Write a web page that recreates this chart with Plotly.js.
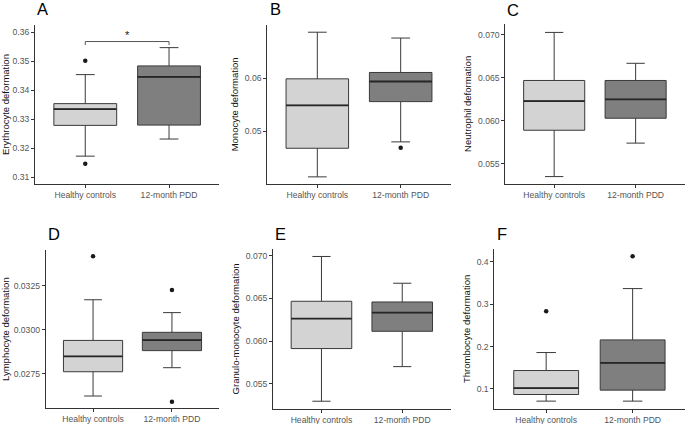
<!DOCTYPE html>
<html>
<head>
<meta charset="utf-8">
<script src="https://cdn.plot.ly/plotly-3.0.1.min.js"></script>
<style>
  html, body { margin: 0; padding: 0; background: #fff; }
  #chart { width: 685px; height: 424px; }
</style>
</head>
<body>
<div id="chart"></div>
<script>
// ---------------- data ----------------
const groups = ['Healthy controls', '12-month PDD'];
const panelLetters = ['A', 'B', 'C', 'D', 'E', 'F'];
const yTitles = ['Erythrocyte deformation', 'Monocyte deformation', 'Neutrophil deformation',
                 'Lymphocyte deformation', 'Granulo-monocyte deformation', 'Thrombocyte deformation'];

// Healthy controls box statistics, one value per panel (A..F)
const hcLower  = [0.3173, 0.0414, 0.0535, 0.02623, 0.05297, 0.0709];
const hcQ1     = [0.3279, 0.0468, 0.0589, 0.02761, 0.05913, 0.0866];
const hcMedian = [0.3335, 0.0549, 0.0623, 0.02848, 0.06264, 0.1016];
const hcQ3     = [0.3354, 0.0599, 0.0647, 0.02939, 0.06466, 0.1433];
const hcUpper  = [0.3454, 0.0687, 0.0703, 0.03170, 0.06990, 0.1858];
const hcOutliers = [[0.3502, 0.3147], [], [], [0.03417], [], [0.2835]];

// 12-month PDD box statistics
const pddLower  = [0.3232, 0.0480, 0.0574, 0.02784, 0.05702, 0.0709];
const pddQ1     = [0.3280, 0.0556, 0.0603, 0.02881, 0.06115, 0.0969];
const pddMedian = [0.3446, 0.0594, 0.0625, 0.02941, 0.06334, 0.1614];
const pddQ3     = [0.3484, 0.0611, 0.0647, 0.02985, 0.06458, 0.2157];
const pddUpper  = [0.3547, 0.0676, 0.0667, 0.03097, 0.06677, 0.3370];
const pddOutliers = [[], [0.0469], [], [0.03225, 0.02591], [], [0.4134]];

// significance bracket (panel A)
const sigPanel = 0;
const sigTop = 0.3568;
const sigDrop = 0.3556;
const sigLabel = '*';
const sigLabelY = 0.3592;

// y tick values per panel
const yTicks = [
  [0.31, 0.32, 0.33, 0.34, 0.35, 0.36],
  [0.05, 0.06],
  [0.055, 0.060, 0.065, 0.070],
  [0.0275, 0.0300, 0.0325],
  [0.055, 0.060, 0.065, 0.070],
  [0.1, 0.2, 0.3, 0.4]
];
const yFormats = ['.2f', '.2f', '.3f', '.4f', '.3f', '.1f'];

// ---------------- layout geometry (pixels) ----------------
const W = 685, H = 424;
const yRanges = [
  [0.3077, 0.3625], [0.04011, 0.07006], [0.05267, 0.07128],
  [0.02555, 0.03451], [0.05212, 0.07074], [0.0535, 0.4299]
];
// [left, right, top, bottom] of each plot area in px
const boxesPx = [
  [35, 219.3, 25, 184], [267.3, 450.7, 25, 183.7], [505.3, 684.5, 24, 183.7],
  [45.7, 219.3, 250.3, 408], [273, 450.7, 249.3, 408.5], [494.3, 684.5, 249.3, 408.5]
];
const letterPos = [[35, 9.5], [268, 9.5], [505.3, 10], [45.7, 233.5], [273, 234], [495.3, 234]];

const FONT = 'Liberation Sans, Arial, sans-serif';
const lineCol = '#3a3a3a';
const boxW = 0.75;
const fills = ['#d3d3d3', '#7f7f7f'];

const traces = [];
const layout = {
  width: W, height: H,
  margin: {l: 0, r: 0, t: 0, b: 0},
  paper_bgcolor: '#fff', plot_bgcolor: '#fff',
  showlegend: false, hovermode: false,
  font: {family: FONT, size: 9, color: '#000'},
  annotations: [], shapes: []
};

for (let i = 0; i < 6; i++) {
  const n = i === 0 ? '' : String(i + 1);
  const xa = 'x' + n, ya = 'y' + n;
  const stats = [
    [hcLower[i], hcQ1[i], hcMedian[i], hcQ3[i], hcUpper[i], hcOutliers[i]],
    [pddLower[i], pddQ1[i], pddMedian[i], pddQ3[i], pddUpper[i], pddOutliers[i]]
  ];
  stats.forEach((s, g) => {
    const xc = g + 1;
    traces.push({
      type: 'box', xaxis: xa, yaxis: ya,
      x: [xc], lowerfence: [s[0]], q1: [s[1]], median: [s[2]], q3: [s[3]], upperfence: [s[4]],
      width: boxW, whiskerwidth: 0.3, boxpoints: false,
      fillcolor: fills[g], line: {color: lineCol, width: 1}
    });
    // thicker median bar
    traces.push({
      type: 'scatter', mode: 'lines', xaxis: xa, yaxis: ya,
      x: [xc - boxW / 2, xc + boxW / 2], y: [s[2], s[2]],
      line: {color: '#262626', width: 1.8}, hoverinfo: 'skip'
    });
    if (s[5].length) {
      traces.push({
        type: 'scatter', mode: 'markers', xaxis: xa, yaxis: ya,
        x: s[5].map(() => xc), y: s[5],
        marker: {color: '#1a1a1a', size: 4.5}, hoverinfo: 'skip'
      });
    }
  });

  if (i === sigPanel) {
    traces.push({
      type: 'scatter', mode: 'lines', xaxis: xa, yaxis: ya,
      x: [1, 1, 2, 2], y: [sigDrop, sigTop, sigTop, sigDrop],
      line: {color: '#555', width: 1}, hoverinfo: 'skip'
    });
    layout.annotations.push({
      xref: xa, yref: ya, x: 1.5, y: sigLabelY, text: sigLabel, showarrow: false,
      font: {family: FONT, size: 11, color: '#222'}, xanchor: 'center', yanchor: 'middle'
    });
  }

  const b = boxesPx[i];
  layout['xaxis' + n] = {
    domain: [b[0] / W, b[1] / W], anchor: ya,
    range: [0.4, 2.6], tickvals: [1, 2], ticktext: groups,
    showline: true, linecolor: '#333', linewidth: 1,
    ticks: 'outside', ticklen: 3, tickcolor: '#333', tickwidth: 1,
    showgrid: false, zeroline: false, fixedrange: true,
    tickfont: {family: FONT, size: 8.6, color: '#555'}
  };
  layout['yaxis' + n] = {
    domain: [1 - b[3] / H, 1 - b[2] / H], anchor: xa,
    range: yRanges[i], tickvals: yTicks[i], tickformat: yFormats[i],
    showline: true, linecolor: '#333', linewidth: 1,
    ticks: 'outside', ticklen: 3, tickcolor: '#333', tickwidth: 1,
    showgrid: false, zeroline: false, fixedrange: true,
    tickfont: {family: FONT, size: 8.6, color: '#555'},
    title: {text: yTitles[i], font: {family: FONT, size: 9.5, color: '#111'}, standoff: 4}
  };
  layout.annotations.push({
    xref: 'paper', yref: 'paper', x: letterPos[i][0] / W, y: 1 - letterPos[i][1] / H,
    text: panelLetters[i], showarrow: false, xanchor: 'left', yanchor: 'middle',
    font: {family: FONT, size: 16.5, color: '#000'}
  });
}

Plotly.newPlot('chart', traces, layout, {staticPlot: true, displayModeBar: false});
</script>
</body>
</html>
